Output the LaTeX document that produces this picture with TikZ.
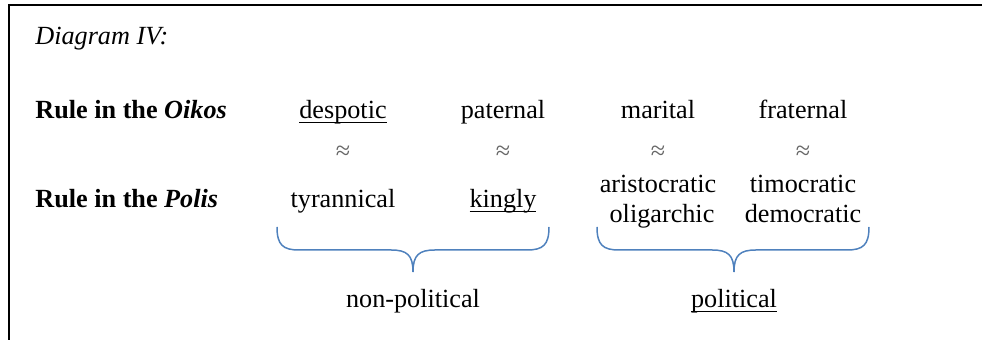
\documentclass[tikz,border=0pt]{standalone}
\usepackage{fontspec}
\setmainfont{Liberation Serif}
\definecolor{braceblue}{RGB}{79,129,189}

\begin{document}
\begin{tikzpicture}[x = 0.5pt, y = -0.5pt]
				\tikzset{word/.style = {inner sep = 0pt, anchor = base, font = \fontsize{13.1}{15.7}\selectfont}}
				\tikzset{rowlabel/.style = {word, anchor = base west}}
				\tikzset{approx/.style = {word, text = black!60}}
				\tikzset{curly/.style = {draw = braceblue, line width = 0.75pt}}
				\newcommand\wordul[1]{\setbox0\hbox{#1}\rlap{\rule[-2pt]{\wd0}{0.6pt}}\box0}
				\useasboundingbox (0,0) rectangle (982,340);
				\draw[line width = 1pt] (982,5) -- (9,5) -- (9,340);
				\node[rowlabel] (title) at (35,45) {\itshape Diagram IV:};
				\node[rowlabel] (oikos) at (35,119) {\bfseries Rule in the \itshape Oikos};
				\node[rowlabel] (polis) at (35,208) {\bfseries Rule in the \itshape Polis};
				\foreach \a/\x/\t in {despotic/343/\wordul{despotic}, paternal/503/paternal,
					marital/658/marital, fraternal/803/fraternal}{
					\node[word] (\a) at (\x,119) {\t};
					\node[approx] (\a-eq) at (\x,160) {≈};
				}
				\node[word] (tyrannical) at (343,208) {tyrannical};
				\node[word] (kingly) at (503,208) {\wordul{kingly}};
				\node[word] (aristocratic) at (658,193) {aristocratic};
				\node[word] (oligarchic) at (662,223) {oligarchic};
				\node[word] (timocratic) at (803,193) {timocratic};
				\node[word] (democratic) at (803,223) {democratic};
				\foreach \l/\m/\r in {277/413/549, 597/734/869}{
					\draw[curly] (\l,227) .. controls (\l,245) and (\l+6,250) .. (\l+22,250) -- (\m-22,250)
						.. controls (\m-6,250) and (\m,255) .. (\m,272)
						.. controls (\m,255) and (\m+6,250) .. (\m+22,250) -- (\r-22,250)
						.. controls (\r-6,250) and (\r,245) .. (\r,227);
				}
				\node[word] (nonpolitical) at (413,308) {non-political};
				\node[word] (political) at (734,308) {\wordul{political}};
			\end{tikzpicture}
\end{document}
